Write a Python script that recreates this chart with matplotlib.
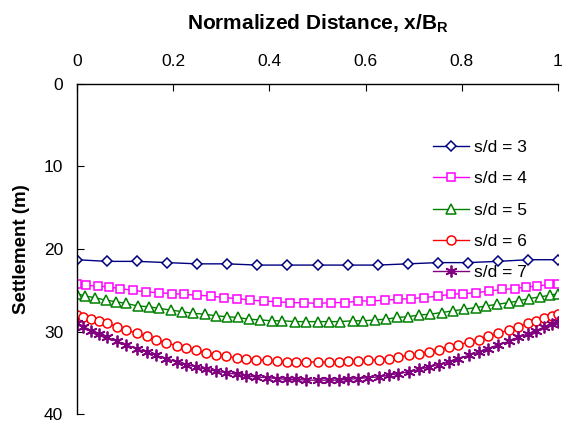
import matplotlib
matplotlib.use("Agg")
import matplotlib.pyplot as plt

plt.rcParams["font.family"] = ["Liberation Sans", "DejaVu Sans"]

# x positions (normalized distance) for each series
x_sd3 = [0, 0.0625, 0.125, 0.1875, 0.25, 0.3125, 0.375, 0.4375, 0.5,
         0.5625, 0.625, 0.6875, 0.75, 0.8125, 0.875, 0.9375, 1.0]
x_sd4 = [0, 0.019, 0.043, 0.067, 0.089, 0.116, 0.144, 0.170, 0.197, 0.223,
         0.250, 0.278, 0.305, 0.333, 0.360, 0.388, 0.415, 0.443, 0.471, 0.5,
         0.529, 0.557, 0.585, 0.612, 0.640, 0.667, 0.695, 0.722, 0.750, 0.777,
         0.803, 0.830, 0.856, 0.884, 0.911, 0.933, 0.957, 0.981, 1.0]
x_sd5 = [0, 0.0165, 0.037, 0.060, 0.082, 0.102, 0.126, 0.149, 0.171, 0.195,
         0.219, 0.241, 0.266, 0.288, 0.312, 0.334, 0.357, 0.381, 0.405, 0.427,
         0.453, 0.477, 0.5,
         0.523, 0.547, 0.573, 0.595, 0.619, 0.643, 0.666, 0.688, 0.712, 0.734,
         0.759, 0.781, 0.805, 0.829, 0.851, 0.874, 0.898, 0.918, 0.940, 0.963,
         0.984, 1.0]
x_sd67 = [0, 0.013, 0.030, 0.046, 0.062, 0.083, 0.102, 0.124, 0.145, 0.165,
          0.186, 0.207, 0.227, 0.248, 0.269, 0.289, 0.310, 0.333, 0.351, 0.372,
          0.395, 0.415, 0.436, 0.456, 0.477, 0.5,
          0.523, 0.544, 0.564, 0.585, 0.605, 0.628, 0.649, 0.667, 0.690, 0.711,
          0.731, 0.752, 0.773, 0.793, 0.814, 0.835, 0.855, 0.876, 0.898, 0.917,
          0.938, 0.954, 0.970, 0.987, 1.0]

# settlement (m)
s_sd3 = [21.3, 21.5, 21.5, 21.65, 21.8, 21.8, 21.95, 21.95, 21.95, 21.95,
         21.95, 21.8, 21.65, 21.65, 21.5, 21.3, 21.3]
s_sd4 = [24.2, 24.4, 24.5, 24.6, 24.8, 25.0, 25.2, 25.3, 25.4, 25.5,
         25.6, 25.7, 25.9, 26.0, 26.2, 26.3, 26.4, 26.5, 26.5, 26.6,
         26.5, 26.5, 26.3, 26.3, 26.2, 26.1, 26.0, 25.9, 25.7, 25.5,
         25.4, 25.3, 25.1, 24.9, 24.8, 24.6, 24.5, 24.3, 24.2]
s_sd5 = [25.4, 25.7, 25.9, 26.2, 26.4, 26.6, 26.9, 27.0, 27.2, 27.4,
         27.6, 27.8, 27.9, 28.1, 28.2, 28.3, 28.5, 28.6, 28.7, 28.7,
         28.8, 28.8, 28.8,
         28.8, 28.8, 28.7, 28.7, 28.6, 28.5, 28.3, 28.2, 28.0, 27.9,
         27.7, 27.5, 27.3, 27.1, 26.9, 26.7, 26.5, 26.3, 26.0, 25.8,
         25.6, 25.4]
s_sd6 = [28.0, 28.2, 28.5, 28.7, 29.0, 29.4, 29.8, 30.2, 30.6, 31.0,
         31.4, 31.7, 32.0, 32.3, 32.6, 32.8, 33.0, 33.2, 33.3, 33.4,
         33.5, 33.6, 33.7, 33.7, 33.7, 33.7,
         33.7, 33.7, 33.6, 33.6, 33.5, 33.4, 33.3, 33.1, 32.9, 32.7,
         32.5, 32.2, 31.9, 31.6, 31.3, 31.0, 30.6, 30.2, 29.8, 29.4,
         29.0, 28.7, 28.4, 28.1, 27.9]
s_sd7 = [29.0, 29.4, 29.9, 30.3, 30.7, 31.2, 31.6, 32.1, 32.5, 32.9,
         33.3, 33.7, 34.0, 34.3, 34.6, 34.8, 35.0, 35.2, 35.4, 35.5,
         35.6, 35.7, 35.8, 35.8, 35.9, 35.9,
         35.9, 35.9, 35.8, 35.7, 35.6, 35.5, 35.3, 35.1, 34.9, 34.6,
         34.3, 34.0, 33.7, 33.3, 32.9, 32.5, 32.1, 31.6, 31.2, 30.7,
         30.3, 29.9, 29.5, 29.1, 28.8]

labels = ["s/d = 3", "s/d = 4", "s/d = 5", "s/d = 6", "s/d = 7"]
colors = ["#000080", "#FF00FF", "#008000", "#FF0000", "#800080"]
markers = ["D", "s", "^", "o", (6, 2, 0)]
sizes = [5.5, 6, 6.5, 6.5, 8.5]
widths = [1.1, 1.1, 1.1, 1.1, 1.3]

fig = plt.figure(figsize=(5.64, 4.23), dpi=100)
ax = fig.add_axes([77 / 564, 1 - 414 / 423, 481 / 564, 330 / 423])

series = [(x_sd3, s_sd3), (x_sd4, s_sd4), (x_sd5, s_sd5),
          (x_sd67, s_sd6), (x_sd67, s_sd7)]
for (xs, ys), lab, c, m, ms, mw in zip(series, labels, colors, markers,
                                       sizes, widths):
    ax.plot(xs, ys, color=c, lw=1, marker=m, ms=ms, mfc="white", mec=c,
            mew=mw, label=lab)

ax.set_xlim(0, 1)
ax.set_ylim(40, 0)
ax.set_xticks([0, 0.2, 0.4, 0.6, 0.8, 1.0])
ax.set_xticklabels(["0", "0.2", "0.4", "0.6", "0.8", "1"])
ax.set_yticks([0, 10, 20, 30, 40])
ax.xaxis.tick_top()
ax.xaxis.set_label_position("top")
ax.tick_params(axis="x", direction="in", length=5, labelsize=12.5, pad=11)
ax.tick_params(axis="y", direction="in", length=5, labelsize=12.5, pad=10)
ax.spines["right"].set_visible(False)
ax.spines["bottom"].set_visible(False)
for sp in ("top", "left"):
    ax.spines[sp].set_linewidth(1.0)

ax.set_xlabel("Normalized Distance, x/B$_\\mathregular{R}$", fontsize=15,
              fontweight="bold", labelpad=17.5)
ax.set_ylabel("Settlement (m)", fontsize=13.5, fontweight="bold", labelpad=10)

ax.legend(loc="upper left", bbox_to_anchor=(433 / 564, 1 - 140 / 423),
          bbox_transform=fig.transFigure, frameon=False, fontsize=12.5,
          handlelength=2.07, handletextpad=0.3, labelspacing=0.93,
          borderpad=0, borderaxespad=0)

fig.savefig("out.png", dpi=100)
